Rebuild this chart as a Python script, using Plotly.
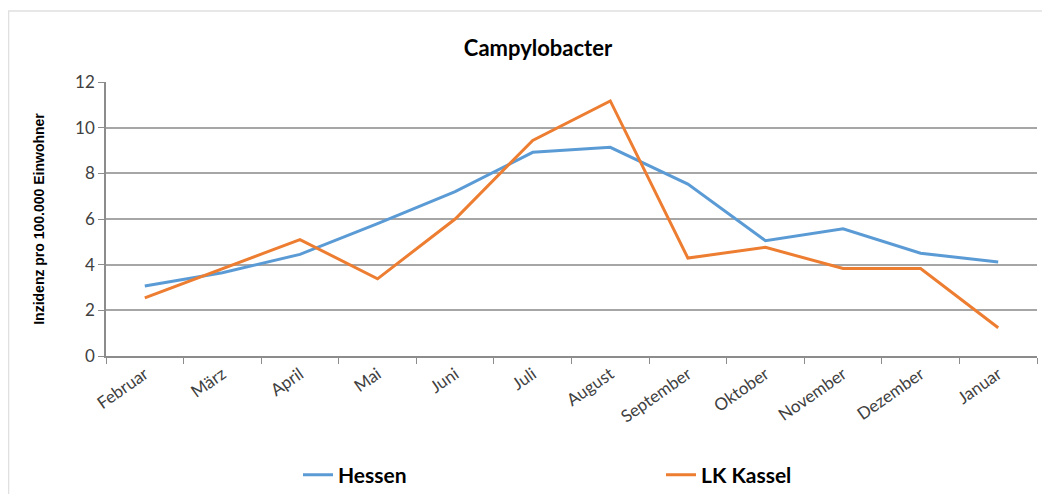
import plotly.graph_objects as go

monate = ['Februar', 'März', 'April', 'Mai', 'Juni', 'Juli', 'August',
          'September', 'Oktober', 'November', 'Dezember', 'Januar']
hessen = [3.07, 3.65, 4.45, 5.8, 7.2, 8.92, 9.14, 7.53, 5.05, 5.57, 4.5, 4.12]
lk_kassel = [2.55, 3.82, 5.1, 3.38, 6.0, 9.44, 11.17, 4.29, 4.76, 3.83, 3.83, 1.24]

# page has an 8px body margin, so positions below are page pixels minus 8
OFF = 8
W, H = 1050, 494
L, T = 106 - OFF, 82 - OFF
R, B = W - (1037 - OFF), H - (356 - OFF)
pw, ph = W - L - R, H - T - B


def px_x(p):
    return (p - OFF - L) / pw


def px_y(p):
    return ((356 - OFF) - (p - OFF)) / ph


fig = go.Figure([
    go.Scatter(x=monate, y=hessen, name='Hessen', mode='lines',
               line=dict(color='#5B9BD5', width=3)),
    go.Scatter(x=monate, y=lk_kassel, name='LK Kassel', mode='lines',
               line=dict(color='#ED7D31', width=3)),
])

fig.update_layout(
    width=W,
    height=H,
    template='simple_white',
    title=dict(
        text='<b>Campylobacter</b>',
        x=px_x(538), xref='paper', xanchor='center',
        y=1 - (48 - OFF) / H, yanchor='middle',
        font=dict(family='Lato, sans-serif', size=22, color='#000000'),
    ),
    font=dict(family='Lato, sans-serif', size=15, color='#404040'),
    margin=dict(l=L, r=R, t=T, b=B, autoexpand=False),
    showlegend=True,
    legend=dict(
        orientation='h',
        x=px_x(298), xanchor='left',
        y=px_y(475), yanchor='middle',
        entrywidth=318,
        font=dict(family='Lato, sans-serif', size=21, color='#000000', weight='bold'),
    ),
    plot_bgcolor='white',
    paper_bgcolor='white',
    shapes=[dict(type='rect', xref='paper', yref='paper',
                 x0=px_x(8.5), x1=px_x(1300),
                 y0=px_y(600), y1=px_y(11),
                 line=dict(color='#9a9a9a', width=1.5), fillcolor='rgba(0,0,0,0)',
                 layer='below')],
)

fig.update_xaxes(
    range=[-0.5, len(monate) - 0.5],
    automargin=False,
    showline=True, linecolor='#8c8c8c', linewidth=1.5,
    ticks='outside', tickson='boundaries', ticklen=6, tickcolor='#8c8c8c',
    tickangle=-35,
    tickfont=dict(family='Lato, sans-serif', size=17, color='#404040'),
    showgrid=False,
)
fig.update_yaxes(
    range=[0, 12], dtick=2,
    automargin=False,
    showline=True, linecolor='#8c8c8c', linewidth=1.5,
    ticks='outside', ticklen=6, tickcolor='#8c8c8c',
    showgrid=True, gridcolor='#a6a6a6', gridwidth=1.5,
    tickfont=dict(family='Lato, sans-serif', size=17, color='#404040'),
    title=dict(
        text='<b>Inzidenz pro 100.000 Einwohner</b>',
        font=dict(family='Liberation Sans, Arial, sans-serif', size=14, color='#000000'),
        standoff=27,
    ),
)

fig.write_html('out.html')
